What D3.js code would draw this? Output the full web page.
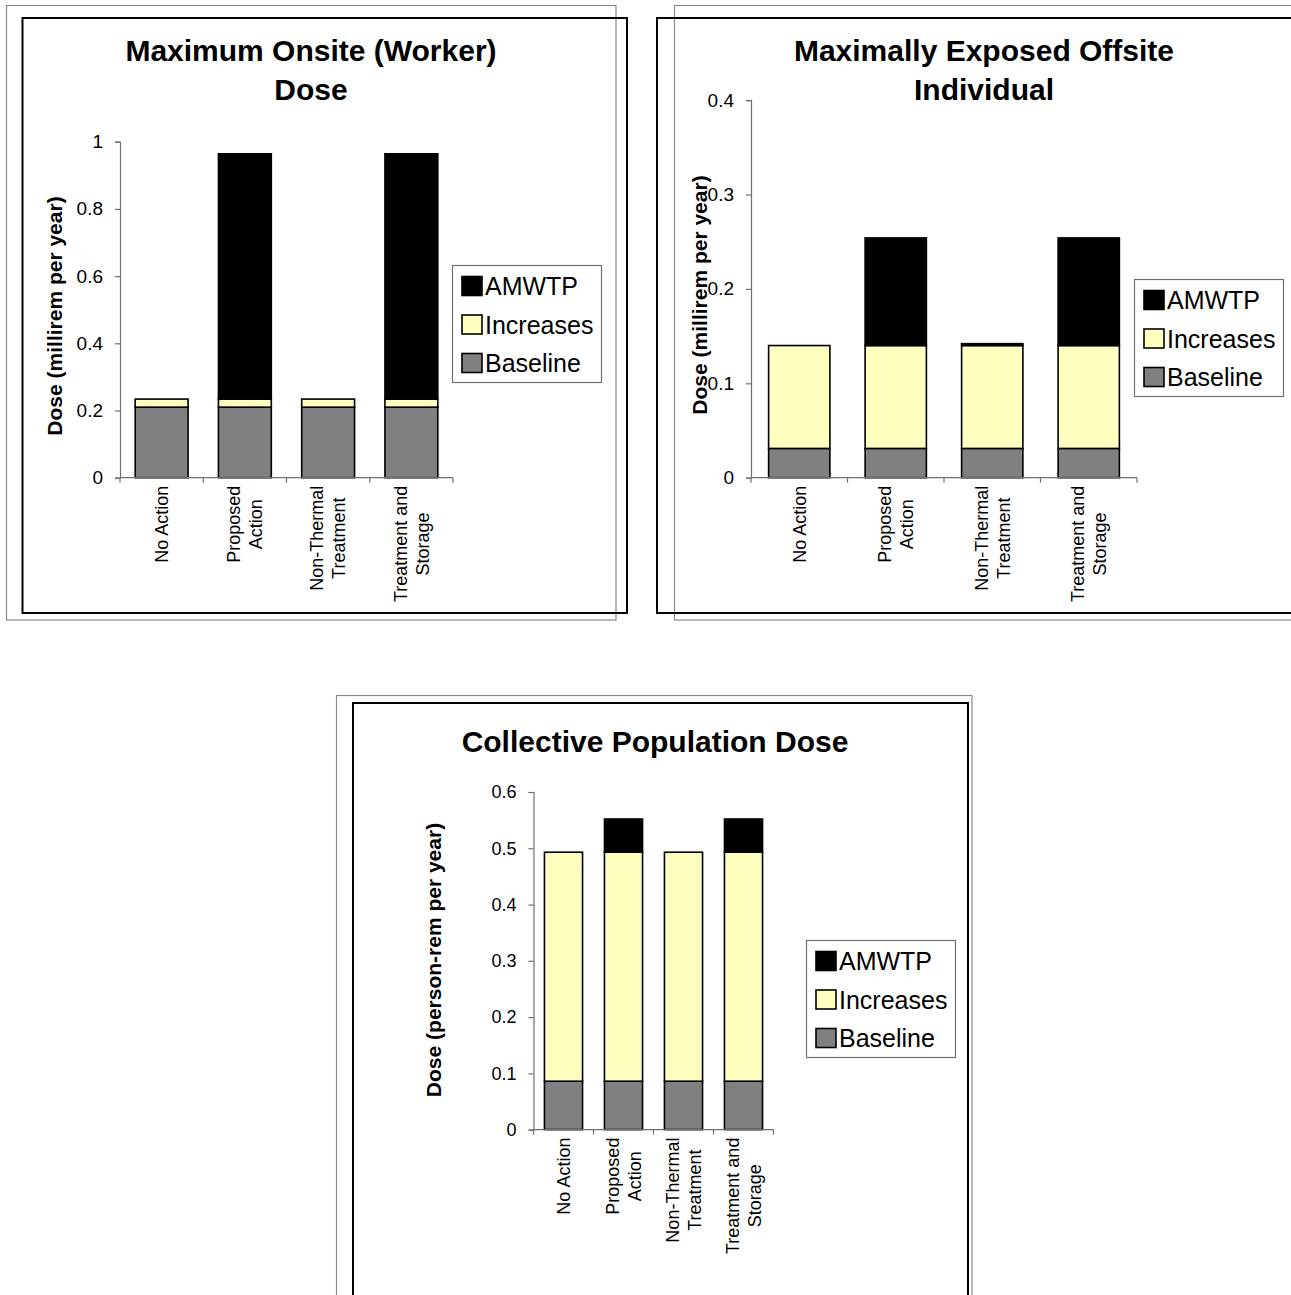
<!DOCTYPE html>
<html>
<head>
<meta charset="utf-8">
<script src="https://cdn.jsdelivr.net/npm/d3@7"></script>
<style>
  html, body { margin: 0; padding: 0; background: #fff; }
  svg { display: block; }
  text { font-family: "Liberation Sans", Arial, Helvetica, sans-serif; fill: #000; }
</style>
</head>
<body>
<svg id="chart" width="1291" height="1295"></svg>
<script>
// ---------------- DATA ----------------
const categories = ["No Action", "Proposed Action", "Non-Thermal Treatment", "Treatment and Storage"];
const categoryLines = [["No Action"], ["Proposed", "Action"], ["Non-Thermal", "Treatment"], ["Treatment and", "Storage"]];
const seriesKeys = ["Baseline", "Increases", "AMWTP"];
const legendOrder = ["AMWTP", "Increases", "Baseline"];

// Maximum Onsite (Worker) Dose (millirem per year)
const onsiteBaseline  = [0.21, 0.21, 0.21, 0.21];
const onsiteIncreases = [0.024, 0.024, 0.024, 0.024];
const onsiteAMWTP     = [0, 0.73, 0, 0.73];
const onsiteTicks     = [0, 0.2, 0.4, 0.6, 0.8, 1];
const onsiteTickLabels = ["0", "0.2", "0.4", "0.6", "0.8", "1"];

// Maximally Exposed Offsite Individual (millirem per year)
const offsiteBaseline  = [0.031, 0.031, 0.031, 0.031];
const offsiteIncreases = [0.109, 0.109, 0.109, 0.109];
const offsiteAMWTP     = [0, 0.114, 0.002, 0.114];
const offsiteTicks     = [0, 0.1, 0.2, 0.3, 0.4];
const offsiteTickLabels = ["0", "0.1", "0.2", "0.3", "0.4"];

// Collective Population Dose (person-rem per year)
const populationBaseline  = [0.086, 0.086, 0.086, 0.086];
const populationIncreases = [0.407, 0.407, 0.407, 0.407];
const populationAMWTP     = [0, 0.059, 0, 0.059];
const populationTicks     = [0, 0.1, 0.2, 0.3, 0.4, 0.5, 0.6];
const populationTickLabels = ["0", "0.1", "0.2", "0.3", "0.4", "0.5", "0.6"];

const titles = {
  onsite: ["Maximum Onsite (Worker)", "Dose"],
  offsite: ["Maximally Exposed Offsite", "Individual"],
  population: ["Collective Population Dose"]
};
const yTitles = {
  onsite: "Dose (millirem per year)",
  offsite: "Dose (millirem per year)",
  population: "Dose (person-rem per year)"
};

// ---------------- STYLE ----------------
const colors = { Baseline: "#808080", Increases: "#FFFFC0", AMWTP: "#000000" };
const svg = d3.select("#chart");

// Frames (gray outer / black inner)
function frames(gray, black) {
  svg.append("rect").attr("x", gray[0]).attr("y", gray[1]).attr("width", gray[2]).attr("height", gray[3])
    .attr("fill", "none").attr("stroke", "#8a8a8a").attr("stroke-width", 1.2);
  svg.append("rect").attr("x", black[0]).attr("y", black[1]).attr("width", black[2]).attr("height", black[3])
    .attr("fill", "none").attr("stroke", "#000").attr("stroke-width", 2);
}
frames([6.5, 5.5, 609.5, 614.5], [22.5, 18, 604.5, 595]);
frames([674.5, 5.5, 700, 614.5], [657, 18, 700, 595]);
frames([336.5, 695.5, 635.5, 700], [353, 703, 615, 700]);

function drawChart(cfg) {
  const g = svg.append("g");
  const rows = categories.map((c, i) => ({
    category: c,
    Baseline: cfg.baseline[i],
    Increases: cfg.increases[i],
    AMWTP: cfg.amwtp[i]
  }));
  const stacked = d3.stack().keys(seriesKeys)(rows);

  const x = d3.scaleBand().domain(categories).range([cfg.x0, cfg.x1])
    .paddingInner(0.365).paddingOuter(0.1825);
  const y = d3.scaleLinear().domain([0, cfg.ticks[cfg.ticks.length - 1]]).range([cfg.y0, cfg.y1]);

  // bars
  stacked.forEach(layer => {
    g.selectAll(null).data(layer.filter(d => d[1] - d[0] > 0)).enter().append("rect")
      .attr("x", d => x(d.data.category))
      .attr("width", x.bandwidth())
      .attr("y", d => y(d[1]))
      .attr("height", d => y(d[0]) - y(d[1]))
      .attr("fill", colors[layer.key])
      .attr("stroke", "#000")
      .attr("stroke-width", 1.6);
  });

  // y axis
  const yAxis = d3.axisLeft(y).tickValues(cfg.ticks)
    .tickFormat((d, i) => cfg.tickLabels[i]).tickSize(5).tickPadding(12);
  const ya = g.append("g").attr("transform", `translate(${cfg.x0},0)`).call(yAxis);
  ya.select(".domain").attr("stroke", "#707070").attr("stroke-width", 1.2);
  ya.selectAll(".tick line").attr("stroke", "#707070").attr("stroke-width", 1.2);
  ya.selectAll(".tick text").attr("font-size", cfg.tickFont).attr("fill", "#000")
    .style("font-family", '"Liberation Sans", Arial, sans-serif');

  // x axis line with boundary ticks
  const xa = g.append("g");
  xa.append("line").attr("x1", cfg.x0).attr("x2", cfg.x1).attr("y1", cfg.y0).attr("y2", cfg.y0)
    .attr("stroke", "#707070").attr("stroke-width", 1.2);
  const bounds = categories.map(c => x(c) - x.step() * 0.1825).concat([cfg.x1]);
  xa.selectAll(null).data(bounds).enter().append("line")
    .attr("x1", d => d).attr("x2", d => d).attr("y1", cfg.y0).attr("y2", cfg.y0 + 5)
    .attr("stroke", "#707070").attr("stroke-width", 1.2);

  // x labels (rotated, multi-line centered)
  categories.forEach((c, i) => {
    const lines = categoryLines[i];
    const cx = x(c) + x.bandwidth() / 2;
    const lg = g.append("g");
    const texts = lines.map((ln, j) => lg.append("text")
      .attr("text-anchor", "middle")
      .attr("font-size", 18)
      .attr("y", (j - (lines.length - 1) / 2) * 22)
      .attr("dy", "0.35em")
      .text(ln));
    const L = d3.max(texts, t => t.node().getComputedTextLength());
    lg.attr("transform", `translate(${cx},${cfg.y0 + 8 + L / 2}) rotate(-90)`);
  });

  // y title
  g.append("text")
    .attr("transform", `translate(${cfg.yTitlePos[0]},${cfg.yTitlePos[1]}) rotate(-90)`)
    .attr("text-anchor", "middle").attr("font-size", 21).attr("font-weight", "bold")
    .text(cfg.yTitle);

  // title
  cfg.title.forEach((t, j) => {
    g.append("text").attr("x", cfg.titlePos[0]).attr("y", cfg.titlePos[1] + j * 38.5)
      .attr("text-anchor", "middle").attr("font-size", 30).attr("font-weight", "bold").text(t);
  });

  // legend
  const lgd = g.append("g").attr("transform", `translate(${cfg.legend[0]},${cfg.legend[1]})`);
  lgd.append("rect").attr("x", 0.5).attr("y", 0.5).attr("width", 149).attr("height", 117)
    .attr("fill", "#fff").attr("stroke", "#707070").attr("stroke-width", 1.2);
  legendOrder.forEach((k, j) => {
    const cy = 21 + j * 38.5;
    lgd.append("rect").attr("x", 10).attr("y", cy - 9.5).attr("width", 20).attr("height", 19)
      .attr("fill", colors[k]).attr("stroke", "#000").attr("stroke-width", 1.6);
    lgd.append("text").attr("x", 33).attr("y", cy).attr("dy", "0.36em")
      .attr("font-size", 25).text(k);
  });
}

drawChart({
  baseline: onsiteBaseline, increases: onsiteIncreases, amwtp: onsiteAMWTP,
  ticks: onsiteTicks, tickLabels: onsiteTickLabels, tickFont: 19,
  x0: 120, x1: 453, y0: 477.7, y1: 141.7,
  yTitle: yTitles.onsite, yTitlePos: [62, 316],
  title: titles.onsite, titlePos: [311, 61],
  legend: [452, 265]
});
drawChart({
  baseline: offsiteBaseline, increases: offsiteIncreases, amwtp: offsiteAMWTP,
  ticks: offsiteTicks, tickLabels: offsiteTickLabels, tickFont: 19,
  x0: 751, x1: 1137, y0: 477.7, y1: 100.1,
  yTitle: yTitles.offsite, yTitlePos: [707, 295],
  title: titles.offsite, titlePos: [984, 61],
  legend: [1134, 279]
});
drawChart({
  baseline: populationBaseline, increases: populationIncreases, amwtp: populationAMWTP,
  ticks: populationTicks, tickLabels: populationTickLabels, tickFont: 18,
  x0: 533.5, x1: 773.5, y0: 1129.6, y1: 792,
  yTitle: yTitles.population, yTitlePos: [441, 960],
  title: titles.population, titlePos: [655, 752],
  legend: [806, 940]
});
</script>
</body>
</html>
